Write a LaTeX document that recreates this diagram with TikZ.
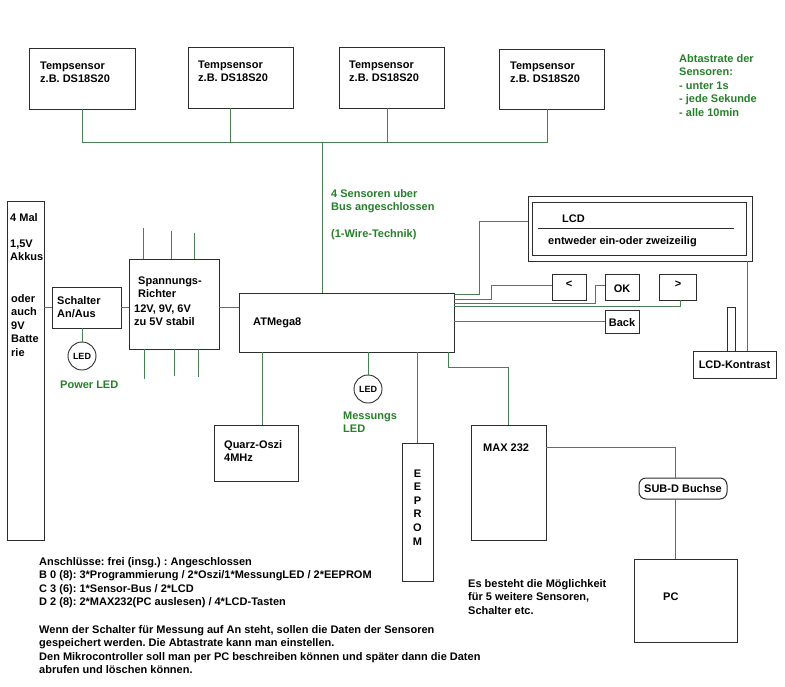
\documentclass[tikz,border=0pt]{standalone}
\usepackage{fontspec}
\setmainfont{Liberation Sans}
\usetikzlibrary{calc}
\frenchspacing
\definecolor{wirec}{RGB}{72,128,84}
\definecolor{greentext}{RGB}{38,128,42}
\definecolor{edgec}{RGB}{45,45,45}
\newcommand\mybox[6][]{\node[box,#1,minimum width={#5-#3},minimum height={#6-#4}] (#2) at ({(#3+#5)/2},{(#4+#6)/2}) {};}
\begin{document}
\begin{tikzpicture}[x=1pt,y=-1pt,
 box/.style={draw=edgec,line width=1pt,inner sep=0pt,outer sep=0pt,rectangle},
 wire/.style={draw=wirec,line width=0.9pt},
 txt/.style={font=\fontsize{11}{13.6}\selectfont\bfseries\frenchspacing,inner sep=0pt,anchor=base west,align=left,text=black},
 gtxt/.style={txt,text=greentext},
 nl/.style={yshift={-(#1-1)*13.6pt}},
 led/.style={draw=edgec,line width=0.9pt,circle,minimum size=28pt,inner sep=0pt,outer sep=0pt,font=\fontsize{9}{10}\selectfont\bfseries}]
\fill[white] (0,0) rectangle (785,686);
\useasboundingbox (0,0) rectangle (785,686);

% sensors
\mybox{s1}{29}{48}{135}{109}
\mybox{s2}{188}{47}{293}{108}
\mybox{s3}{339}{47}{444}{108}
\mybox{s4}{499}{49}{604}{109}
\node[txt,nl=2] (ts1) at (40,69) {Tempsensor\\z.B. DS18S20};
\node[txt,nl=2] (ts2) at (198,68) {Tempsensor\\z.B. DS18S20};
\node[txt,nl=2] (ts3) at (349,68) {Tempsensor\\z.B. DS18S20};
\node[txt,nl=2] (ts4) at (510,69) {Tempsensor\\z.B. DS18S20};
\node[gtxt,nl=5] (abt) at (679,62) {Abtastrate der\\Sensoren:\\- unter 1s\\- jede Sekunde\\- alle 10min};

% main boxes
\mybox{bat}{7}{201}{44}{540}
\mybox{sch}{52}{287}{121}{328}
\mybox{spr}{129}{259}{219}{349}
\mybox{atm}{239}{293}{454}{352}
\mybox{lcdo}{528}{196}{752}{261}
\mybox{lcdi}{532}{202}{746}{255}
\mybox{bl}{552}{274}{586}{300}
\mybox{bok}{605}{274}{639}{300}
\mybox{br}{659}{274}{696}{300}
\mybox{bback}{605}{310}{639}{333}
\mybox{kon}{693}{351}{776}{378}
\mybox{poti}{727}{307}{735}{351}
\mybox{quarz}{214}{425}{298}{481}
\mybox{eep}{402}{443}{433}{581}
\mybox{max}{471}{425}{546}{540}
\mybox[rounded corners=7pt]{subd}{639}{478}{727}{499}
\mybox{pc}{634}{559}{737}{642}
\node[led] (led1) at (82,356) {LED};
\node[led] (led2) at (368,389) {LED};

% texts
\node[txt] (tb1) at (10,221) {4 Mal};
\node[txt,nl=2] (tb2) at (10,247) {1,5V\\Akkus};
\node[txt,nl=5] (tb3) at (11,302) {oder\\auch\\9V\\Batte\\rie};
\node[txt,nl=2] (tsch) at (57,304) {Schalter\\An/Aus};
\node[gtxt] (tpl) at (60,388) {Power LED};
\node[txt,nl=2] (tspr1) at (138,284) {Spannungs-\\Richter};
\node[txt,nl=2] (tspr2) at (134,312) {12V, 9V, 6V\\zu 5V stabil};
\node[txt] (tatm) at (253,325) {ATMega8};
\node[gtxt,nl=2] (tbus1) at (331,197) {4 Sensoren uber\\Bus angeschlossen};
\node[gtxt] (tbus2) at (331,237) {(1-Wire-Technik)};
\node[txt] (tlcd) at (562,222) {LCD};
\draw[edgec,line width=0.8pt] (538,228) -- (734,228);
\node[txt] (tlcd2) at (548,244) {entweder ein-oder zweizeilig};
\node[txt,anchor=base] (tbl) at (569,287) {<};
\node[txt,anchor=base] (tbok) at (622,292) {OK};
\node[txt,anchor=base] (tbr) at (678,287) {>};
\node[txt,anchor=base] (tbback) at (622,326) {Back};
\node[txt,anchor=center] (tkon) at (kon.center) {LCD-Kontrast};
\node[txt,nl=2] (tq) at (224,448) {Quarz-Oszi\\4MHz};
\node[gtxt,nl=2] (tml) at (343,419) {Messungs\\LED};
\node[txt,anchor=base,align=center,nl=6] (teep) at (417.5,477) {E\\E\\P\\R\\O\\M};
\node[txt] (tmax) at (483,451) {MAX 232};
\node[txt,anchor=center] (tsubd) at (subd.center) {SUB-D Buchse};
\node[txt] (tpc) at (663,600) {PC};
\node[txt,nl=3] (tes) at (468,587) {Es besteht die Möglichkeit\\für 5 weitere Sensoren,\\Schalter etc.};
\node[txt,nl=4] (tan) at (39,565) {Anschlüsse: frei (insg.) : Angeschlossen\\B 0 (8): 3*Programmierung / 2*Oszi/1*MessungLED / 2*EEPROM\\C 3 (6): 1*Sensor-Bus / 2*LCD\\D 2 (8): 2*MAX232(PC auslesen) / 4*LCD-Tasten};
\node[txt,nl=4] (twenn) at (39,633) {Wenn der Schalter für Messung auf An steht, sollen die Daten der Sensoren\\gespeichert werden. Die Abtastrate kann man einstellen.\\Den Mikrocontroller soll man per PC beschreiben können und später dann die Daten\\abrufen und löschen können.};

% sensor bus
\coordinate (busy) at (0,142);
\coordinate (d2) at ([xshift=42pt]s2.south west);
\coordinate (d3) at ([xshift=48pt]s3.south west);
\coordinate (d4) at ([xshift=48pt]s4.south west);
\coordinate (datm) at ([xshift=83pt]atm.north west);
\draw[wire] (s1.south) |- (d4 |- busy) -- (d4);
\draw[wire] (d2) -- (d2 |- busy);
\draw[wire] (d3) -- (d3 |- busy);
\draw[wire] (datm) -- (datm |- busy);

% power path
\draw[wire] (sch.west) -- (sch.west -| bat.east);
\draw[wire] (sch.east) -- (sch.east -| spr.west);
\draw[wire] (led1.north) -- (led1.north |- sch.south);
\draw[wire] ([yshift=-3pt]spr.east) -- ([yshift=-3pt]spr.east -| atm.west);
\draw[wire] ([xshift=14pt]spr.north west) -- ++(0,-31);
\draw[wire] ([xshift=42pt]spr.north west) -- ++(0,-28);
\draw[wire] ([xshift=65pt]spr.north west) -- ++(0,-26);
\draw[wire] ([xshift=15pt]spr.south west) -- ++(0,30);
\draw[wire] ([xshift=45pt]spr.south west) -- ++(0,27);
\draw[wire] ([xshift=69pt]spr.south west) -- ++(0,28);

% ATMega right side
\draw[wire] ([yshift=-1pt]atm.north east) -- ++(25,0) |- ([yshift=7.5pt]lcdo.west);
\draw[wire] ([yshift=-6pt]atm.north east) -- ++(37,0) |- ([yshift=2pt]bl.west);
\draw[wire] ([yshift=-10pt]atm.north east) -- ++(141,0) |- ([yshift=2pt]bok.west);
\draw[wire] ([yshift=-13pt]atm.north east) -| ([xshift=2.5pt]br.south);
\draw[wire] (bback.west) -- (bback.west -| atm.east);
\coordinate (lk) at ([xshift=-5pt]lcdo.south east);
\draw[wire] (lk) -- (lk |- kon.north);

% ATMega bottom
\coordinate (qz) at ([xshift=6pt]quarz.north);
\draw[wire] (qz) -- (qz |- atm.south);
\draw[wire] (led2.north) -- (led2.north |- atm.south);
\draw[wire] (eep.north) -- (eep.north |- atm.south);
\draw[wire] ([xshift=-6pt]atm.south east) -- ++(0,15) -| (max.north);
\coordinate (sd) at ([xshift=-8pt]subd.north);
\draw[wire] ([yshift=-22pt]max.north east) -| (sd);
\coordinate (sd2) at ([xshift=-8pt]subd.south);
\draw[wire] (sd2) -- (sd2 |- pc.north);
\end{tikzpicture}
\end{document}
